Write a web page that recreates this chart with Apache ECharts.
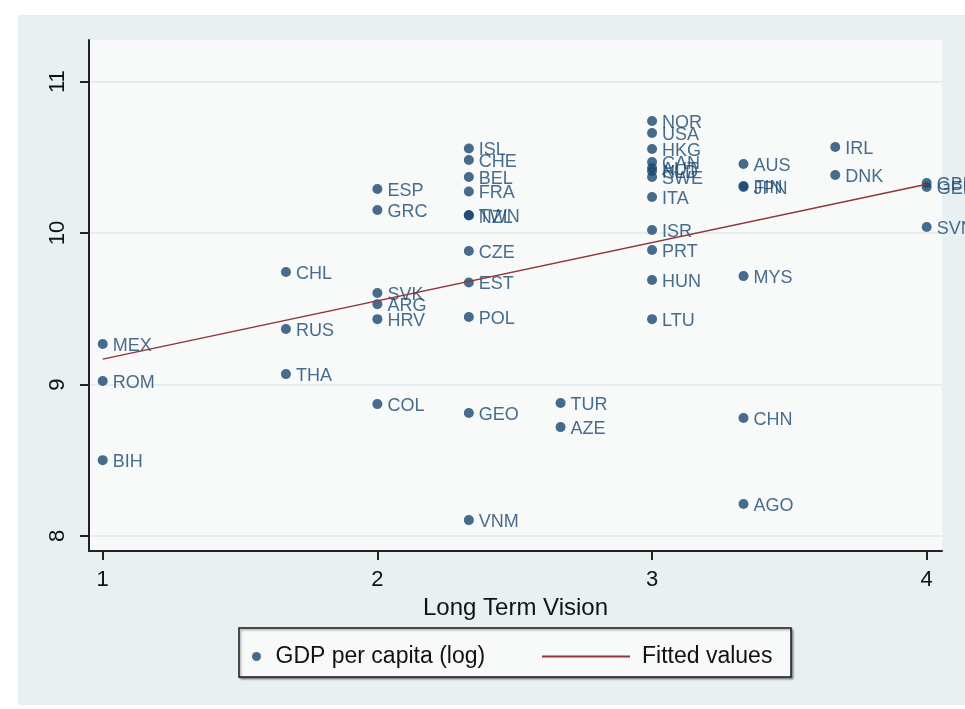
<!DOCTYPE html>
<html>
<head>
<meta charset="utf-8">
<script src="https://cdn.jsdelivr.net/npm/echarts@6/dist/echarts.min.js"></script>
<style>
  html, body { margin: 0; padding: 0; background: #ffffff; }
  #chart { width: 965px; height: 709px; }
</style>
</head>
<body>
<div id="chart"></div>
<script>
// Country codes, long term vision score, and log GDP per capita
const countries = ['MEX','ROM','BIH','CHL','RUS','THA','ESP','GRC','SVK','ARG','HRV','COL',
  'ISL','CHE','BEL','FRA','NZL','TWN','CZE','EST','POL','GEO','VNM','TUR','AZE',
  'NOR','USA','HKG','CAN','AUT','NLD','SWE','ITA','ISR','PRT','HUN','LTU',
  'AUS','FIN','JPN','MYS','CHN','AGO','IRL','DNK','GBR','GER','SVN'];
const vision = [1, 1, 1, 1.667, 1.667, 1.667, 2, 2, 2, 2, 2, 2,
  2.333, 2.333, 2.333, 2.333, 2.333, 2.333, 2.333, 2.333, 2.333, 2.333, 2.333, 2.667, 2.667,
  3, 3, 3, 3, 3, 3, 3, 3, 3, 3, 3, 3,
  3.333, 3.333, 3.333, 3.333, 3.333, 3.333, 3.667, 3.667, 4, 4, 4];
const gdpLog = [9.268, 9.023, 8.501, 9.743, 9.367, 9.069, 10.291, 10.153, 9.604, 9.531, 9.432, 8.871,
  10.559, 10.483, 10.371, 10.275, 10.116, 10.120, 9.882, 9.674, 9.446, 8.812, 8.105, 8.878, 8.719,
  10.740, 10.661, 10.555, 10.470, 10.430, 10.410, 10.370, 10.238, 10.020, 9.888, 9.690, 9.432,
  10.456, 10.311, 10.305, 9.716, 8.779, 8.211, 10.568, 10.384, 10.330, 10.304, 10.040];

// Linear fit endpoints
const fitX = [1, 4];
const fitY = [9.168, 10.323];

// Axis ticks
const xTicks = [1, 2, 3, 4];
const yTicks = [8, 9, 10, 11];

const navy = '#1a476f';
const maroon = '#90353b';
const font = 'Liberation Sans, Arial, sans-serif';

const scatterData = countries.map((c, i) => [vision[i], gdpLog[i], c]);
const fitData = fitX.map((x, i) => [x, fitY[i]]);

const chart = echarts.init(document.getElementById('chart'), null, { renderer: 'canvas' });

chart.setOption({
  animation: false,
  backgroundColor: '#ffffff',
  textStyle: { fontFamily: font },
  graphic: [
    {
      type: 'rect', z: -10, silent: true,
      shape: { x: 18, y: 15, width: 947, height: 690 },
      style: { fill: '#e8f0f2' }
    },
    {
      type: 'rect', z: 1, silent: true,
      shape: { x: 239, y: 628, width: 552, height: 49 },
      style: {
        fill: '#f8f9f9', stroke: '#1a1a1a', lineWidth: 1.5,
        shadowBlur: 2, shadowOffsetX: 1.5, shadowOffsetY: 1.5, shadowColor: 'rgba(0,0,0,0.35)'
      }
    }
  ],
  grid: {
    left: 89, right: 23, top: 40, bottom: 158,
    show: true, backgroundColor: '#f8f9f9', borderWidth: 0
  },
  xAxis: {
    type: 'value', min: 0.95, max: 4.0557,
    name: 'Long Term Vision', nameLocation: 'middle', nameGap: 37,
    nameTextStyle: { fontSize: 24, color: '#111', fontFamily: font },
    axisLine: { show: true, onZero: false, lineStyle: { color: '#222', width: 2 } },
    axisTick: { show: true, customValues: xTicks, length: 9, lineStyle: { color: '#222', width: 2 } },
    axisLabel: { customValues: xTicks, fontSize: 22, color: '#111', margin: 18, fontFamily: font },
    splitLine: { show: false }
  },
  yAxis: {
    type: 'value', min: 7.901, max: 11.275,
    axisLine: { show: true, onZero: false, lineStyle: { color: '#222', width: 2 } },
    axisTick: { show: true, customValues: yTicks, length: 9, lineStyle: { color: '#222', width: 2 } },
    axisLabel: { customValues: yTicks, rotate: 90, fontSize: 22, color: '#111', margin: 20, fontFamily: font },
    splitLine: { show: true, lineStyle: { color: '#e0e8eb', width: 1.5 } }
  },
  legend: [
    {
      data: ['GDP per capita (log)'],
      left: 247, top: 640,
      itemWidth: 22, itemHeight: 9,
      textStyle: { fontSize: 23, color: '#111', fontFamily: font, padding: [0, 0, 0, 3] },
      z: 5
    },
    {
      data: [{ name: 'Fitted values', icon: 'rect' }],
      left: 537, top: 640,
      itemWidth: 88, itemHeight: 2,
      textStyle: { fontSize: 23, color: '#111', fontFamily: font, padding: [0, 0, 0, 7] },
      z: 5
    }
  ],
  series: [
    {
      name: 'GDP per capita (log)',
      type: 'scatter',
      data: scatterData,
      symbol: 'circle',
      symbolSize: 10,
      itemStyle: { color: navy },
      label: {
        show: true, position: 'right', distance: 5, offset: [0, 2],
        formatter: p => p.data[2],
        fontSize: 18, color: navy, fontFamily: font
      },
      z: 3
    },
    {
      name: 'Fitted values',
      type: 'line',
      data: fitData,
      symbol: 'none',
      lineStyle: { color: maroon, width: 1.5 },
      itemStyle: { color: maroon },
      z: 4
    }
  ]
});
</script>
</body>
</html>
